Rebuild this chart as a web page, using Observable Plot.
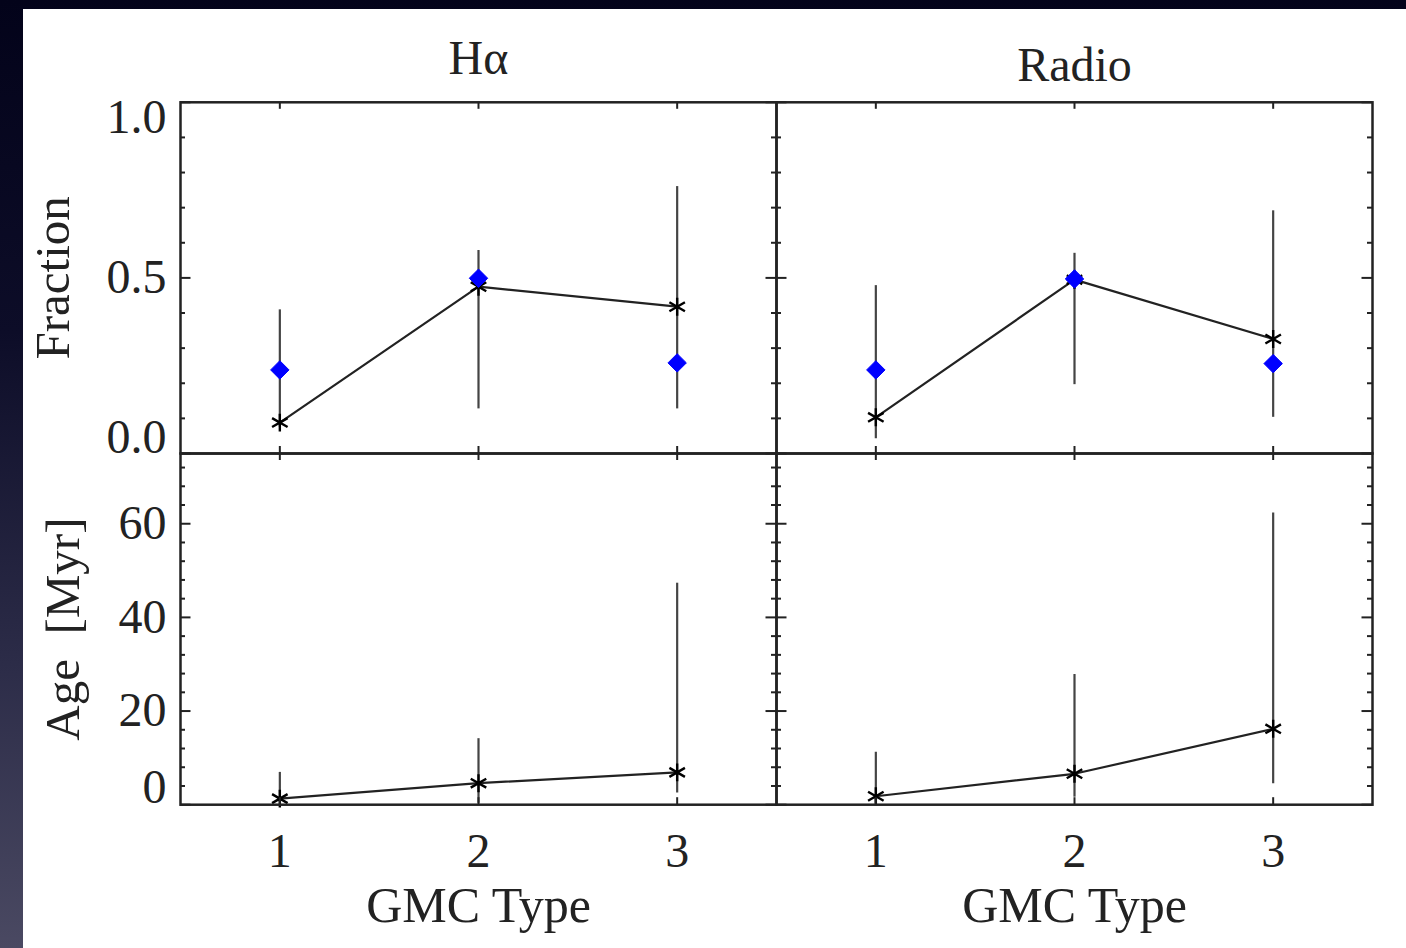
<!DOCTYPE html>
<html>
<head>
<meta charset="utf-8">
<script src="https://cdn.jsdelivr.net/npm/d3@7"></script>
<script src="https://cdn.jsdelivr.net/npm/@observablehq/plot@0.6"></script>
<style>
  html, body { margin: 0; padding: 0; }
  body {
    width: 1406px; height: 948px; overflow: hidden; position: relative;
    background: linear-gradient(to bottom, #03031a 0%, #0d0d28 35%, #2c2c48 70%, #4a4962 100%);
  }
  #sheet { position: absolute; left: 23px; top: 9px; right: 0; bottom: 0; background: #fff; }
  .row { position: absolute; left: 0; }
</style>
</head>
<body>
<div id="sheet"></div>
<div id="row1" class="row" style="top:0px"></div>
<div id="row2" class="row" style="top:453px"></div>
<script>
// GMC types and the two tracer panels
const types = [1, 2, 3];
const panels = ["Hα", "Radio"];

// Fraction: model curve (asterisks), observed fraction (diamonds) and its error range
const haFracModel = [0.088, 0.475, 0.418];
const haFracObs = [0.238, 0.499, 0.258];
const haFracLo = [0.075, 0.127, 0.127];
const haFracHi = [0.409, 0.578, 0.760];
const radioFracModel = [0.103, 0.495, 0.326];
const radioFracObs = [0.238, 0.497, 0.256];
const radioFracLo = [0.042, 0.196, 0.103];
const radioFracHi = [0.478, 0.570, 0.691];

// Age [Myr] with its error range
const haAge = [1.3, 4.6, 6.9];
const haAgeLo = [0.5, 0.3, 2.5];
const haAgeHi = [6.9, 14.1, 47.3];
const radioAge = [1.8, 6.6, 16.2];
const radioAgeLo = [0.3, 1.6, 4.5];
const radioAgeHi = [11.2, 27.8, 62.3];

// Axis ticks
const fracMajor = [0, 0.5, 1.0];
const fracMinor = [0.1, 0.2, 0.3, 0.4, 0.6, 0.7, 0.8, 0.9];
const ageMajor = [0, 20, 40, 60];
const ageMinor = d3.range(4, 75, 4).filter(v => v % 20 !== 0);

const fracRows = panels.flatMap((panel, i) => types.map((type, j) => ({
  panel, type,
  model: [haFracModel, radioFracModel][i][j],
  obs: [haFracObs, radioFracObs][i][j],
  lo: [haFracLo, radioFracLo][i][j],
  hi: [haFracHi, radioFracHi][i][j]
})));
const ageRows = panels.flatMap((panel, i) => types.map((type, j) => ({
  panel, type,
  age: [haAge, radioAge][i][j],
  lo: [haAgeLo, radioAgeLo][i][j],
  hi: [haAgeHi, radioAgeHi][i][j]
})));

const ink = "#222";
const W = 1406, mL = 179, mR = 34;
const panelW = (W - mL - mR) / 2;
const panelH = 351.2;
const font = "'Liberation Serif', 'Times New Roman', serif";
const first = () => panels[0];

function boxTicks(major, minor) {
  const t = {stroke: ink, strokeWidth: 2};
  return [
    Plot.tickY(major, {y: d => d, insetRight: panelW - 11, ...t}),
    Plot.tickY(major, {y: d => d, insetLeft: panelW - 11, ...t}),
    Plot.tickY(minor, {y: d => d, insetRight: panelW - 5.5, ...t}),
    Plot.tickY(minor, {y: d => d, insetLeft: panelW - 5.5, ...t}),
    Plot.tickX(types, {x: d => d, insetBottom: panelH - 7, ...t}),
    Plot.tickX(types, {x: d => d, insetTop: panelH - 7, ...t}),
    Plot.frame({stroke: ink, strokeWidth: 2.5})
  ];
}

function yLabels(values, fmt, dy) {
  return Plot.text(values, {
    y: d => d, fx: first, frameAnchor: "left", dx: -14, dy,
    textAnchor: "end", lineAnchor: "middle", text: fmt, fontSize: 48
  });
}

const common = {
  width: W, marginLeft: mL, marginRight: mR,
  fx: {domain: panels, padding: 0, axis: null},
  x: {domain: [0.5, 3.5], axis: null},
  style: {background: "transparent", overflow: "visible", fontFamily: font, color: ink}
};

const fractionChart = Plot.plot({
  ...common,
  height: 453, marginTop: 453 - panelH, marginBottom: 0,
  y: {domain: [0, 1], axis: null},
  marks: [
    Plot.ruleX(fracRows, {x: "type", y1: "lo", y2: "hi", fx: "panel", stroke: "#444", strokeWidth: 2.2}),
    Plot.line(fracRows, {x: "type", y: "model", fx: "panel", stroke: ink, strokeWidth: 2.2}),
    Plot.dot(fracRows, {x: "type", y: "model", fx: "panel", symbol: "asterisk", r: 8.5, stroke: "#000", strokeWidth: 2.4}),
    Plot.dot(fracRows, {x: "type", y: "obs", fx: "panel", symbol: "diamond2", r: 8.3, fill: "#0000ff", stroke: "#0000ff", strokeWidth: 1}),
    ...boxTicks(fracMajor, fracMinor),
    yLabels([1.0], d => d.toFixed(1), 15),
    yLabels([0.5], d => d.toFixed(1), 0),
    yLabels([0], d => d.toFixed(1), -16),
    Plot.text([panels[0]], {fx: d => d, frameAnchor: "top", lineAnchor: "middle", dy: -44, text: d => d, fontSize: 48}),
    Plot.text([panels[1]], {fx: d => d, frameAnchor: "top", lineAnchor: "middle", dy: -37, text: d => d, fontSize: 48}),
    Plot.text(["Fraction"], {fx: first, frameAnchor: "left", textAnchor: "middle", lineAnchor: "middle", dx: -127, rotate: -90, text: d => d, fontSize: 49})
  ]
});

const ageChart = Plot.plot({
  ...common,
  height: 495, marginTop: 0, marginBottom: 495 - panelH,
  y: {domain: [0, 75], axis: null},
  marks: [
    Plot.ruleX(ageRows, {x: "type", y1: "lo", y2: "hi", fx: "panel", stroke: "#444", strokeWidth: 2.2}),
    Plot.line(ageRows, {x: "type", y: "age", fx: "panel", stroke: ink, strokeWidth: 2.2}),
    Plot.dot(ageRows, {x: "type", y: "age", fx: "panel", symbol: "asterisk", r: 8.5, stroke: "#000", strokeWidth: 2.4}),
    ...boxTicks(ageMajor, ageMinor),
    yLabels([20, 40, 60], d => String(d), 0),
    yLabels([0], d => String(d), -17),
    Plot.text(ageRows, {x: "type", fx: "panel", frameAnchor: "bottom", lineAnchor: "middle", dy: 47, text: d => String(d.type), fontSize: 48}),
    Plot.text(panels, {fx: d => d, x: () => 2, frameAnchor: "bottom", lineAnchor: "middle", dy: 101, text: () => "GMC Type", fontSize: 50}),
    Plot.text(["Age  [Myr]"], {fx: first, frameAnchor: "left", textAnchor: "middle", lineAnchor: "middle", dx: -117, rotate: -90, text: d => d, fontSize: 49})
  ]
});

document.getElementById("row1").append(fractionChart);
document.getElementById("row2").append(ageChart);
</script>
</body>
</html>
